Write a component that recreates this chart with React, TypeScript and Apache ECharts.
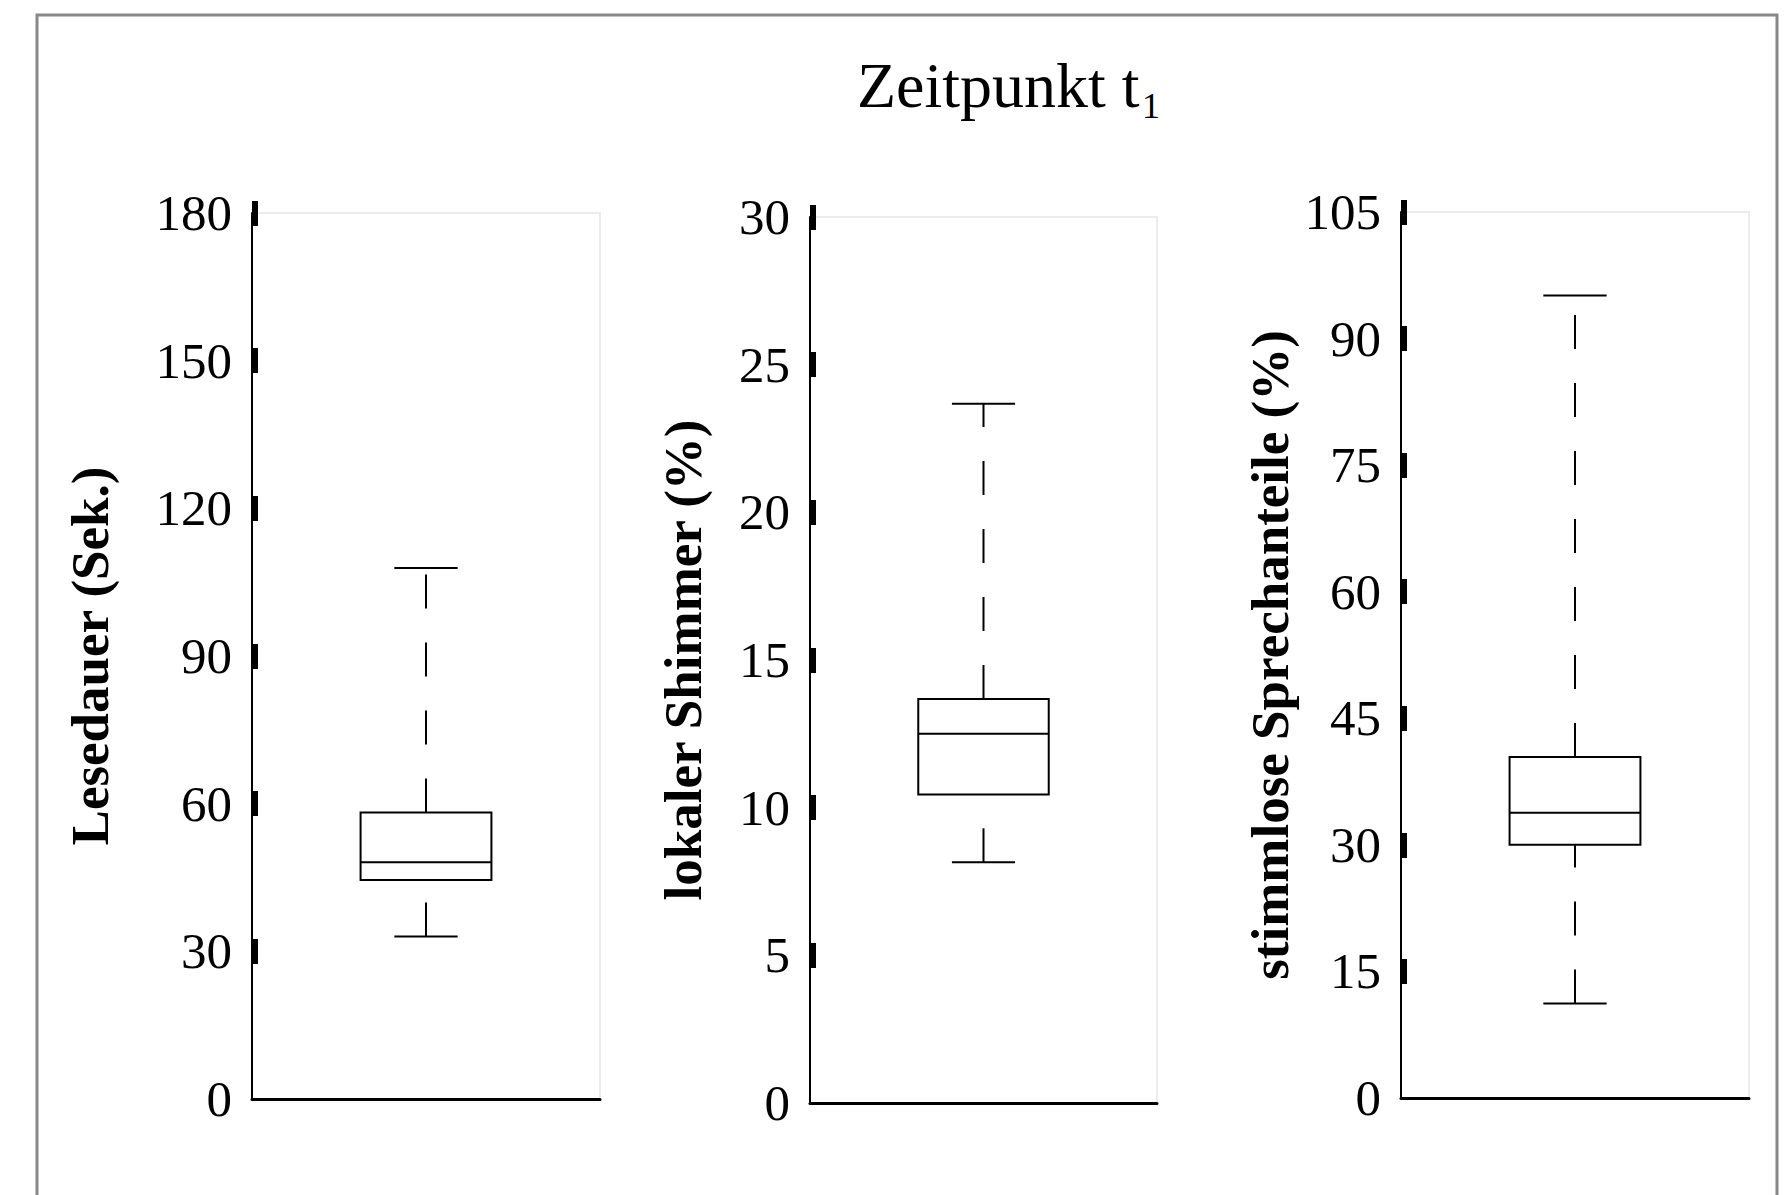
import React, { useEffect, useRef } from "react";
import * as echarts from "echarts";

// five-number summaries: [min, q1, median, q3, max]
const categories = [""];
const lesedauer = [33.0, 44.5, 48.1, 58.2, 107.9];
const shimmer = [8.15, 10.45, 12.5, 13.68, 23.68];
const stimmlos = [11.2, 30.0, 33.8, 40.4, 95.1];

const ticksLesedauer = [0, 30, 60, 90, 120, 150, 180];
const ticksShimmer = [0, 5, 10, 15, 20, 25, 30];
const ticksStimmlos = [0, 15, 30, 45, 60, 75, 90, 105];

const axisNames = ["Lesedauer (Sek.)", "lokaler Shimmer (%)", "stimmlose Sprechanteile (%)"];
const titleMain = "Zeitpunkt t";
const titleSub = "1";

const FONT = "Liberation Serif";

const panels = [
  { data: lesedauer, ticks: ticksLesedauer, name: axisNames[0], grid: { left: 252, top: 213, width: 348, height: 886 }, nameGap: 136 },
  { data: shimmer, ticks: ticksShimmer, name: axisNames[1], grid: { left: 810, top: 217, width: 347, height: 886 }, nameGap: 101 },
  { data: stimmlos, ticks: ticksStimmlos, name: axisNames[2], grid: { left: 1401, top: 212, width: 348, height: 886 }, nameGap: 105 },
];

function renderBox(params: any, api: any) {
  const x = api.value(0);
  const lo = api.coord([x, api.value(1)]);
  const q1 = api.coord([x, api.value(2)]);
  const med = api.coord([x, api.value(3)]);
  const q3 = api.coord([x, api.value(4)]);
  const hi = api.coord([x, api.value(5)]);
  const bw = api.size([1, 0])[0];
  const half = bw * 0.188;
  const cap = bw * 0.091;
  const cx = q1[0];
  const solid = { stroke: "#000", lineWidth: 2, fill: "none" };
  const dashed = { stroke: "#000", lineWidth: 2, lineDash: [34, 34], fill: "none" };
  return {
    type: "group",
    children: [
      { type: "line", shape: { x1: cx, y1: lo[1], x2: cx, y2: q1[1] }, style: dashed },
      { type: "line", shape: { x1: cx, y1: q3[1], x2: cx, y2: hi[1] }, style: dashed },
      { type: "line", shape: { x1: cx - cap, y1: lo[1], x2: cx + cap, y2: lo[1] }, style: solid },
      { type: "line", shape: { x1: cx - cap, y1: hi[1], x2: cx + cap, y2: hi[1] }, style: solid },
      { type: "rect", shape: { x: cx - half, y: q3[1], width: 2 * half, height: q1[1] - q3[1] }, style: { ...solid, fill: "#fff" } },
      { type: "line", shape: { x1: cx - half, y1: med[1], x2: cx + half, y2: med[1] }, style: solid },
    ],
  };
}

export default function App() {
  const ref = useRef<HTMLDivElement>(null);
  useEffect(() => {
    if (!ref.current) return;
    const chart = echarts.init(ref.current, null, { renderer: "svg" });
    const grids = panels.map((p) => ({
      ...p.grid,
      show: true,
      borderColor: "#ececec",
      borderWidth: 2,
      backgroundColor: "transparent",
    }));
    const xAxes = panels.map((_, i) => ({
      type: "category",
      gridIndex: i,
      data: categories,
      boundaryGap: true,
      axisLine: { show: true, lineStyle: { color: "#000", width: 3 } },
      axisTick: { show: false },
      axisLabel: { show: false },
      splitLine: { show: false },
    }));
    const yAxes = panels.map((p, i) => {
      const max = p.ticks[p.ticks.length - 1];
      const step = p.ticks[1] - p.ticks[0];
      return {
        type: "value",
        gridIndex: i,
        min: 0,
        max,
        interval: step,
        name: p.name,
        nameLocation: "middle",
        nameGap: p.nameGap,
        nameTextStyle: { fontFamily: FONT, fontWeight: "bold", fontSize: 53, color: "#000" },
        axisLine: { show: true, lineStyle: { color: "#000", width: 2 } },
        axisTick: {
          show: true,
          inside: true,
          length: 6,
          customValues: p.ticks.slice(1),
          lineStyle: { color: "#000", width: 25 },
        },
        axisLabel: { fontFamily: FONT, fontSize: 51, color: "#000", margin: 20, customValues: p.ticks },
        splitLine: { show: false },
      };
    });
    const series = panels.map((p, i) => ({
      type: "custom",
      xAxisIndex: i,
      yAxisIndex: i,
      renderItem: renderBox,
      encode: { x: 0, y: [1, 2, 3, 4, 5] },
      data: [[0, ...p.data]],
      z: 5,
    }));
    chart.setOption({
      animation: false,
      backgroundColor: "#fff",
      grid: grids,
      xAxis: xAxes,
      yAxis: yAxes,
      series,
      graphic: [
        {
          type: "rect",
          shape: { x: 37, y: 15, width: 1740, height: 1300 },
          style: { fill: "none", stroke: "#888", lineWidth: 3 },
          silent: true,
        },
        {
          type: "text",
          x: 857,
          y: 85,
          style: { text: titleMain, fontFamily: FONT, fontSize: 64, fill: "#000", align: "left", verticalAlign: "middle" },
        },
        {
          type: "text",
          x: 1142,
          y: 106,
          style: { text: titleSub, fontFamily: FONT, fontSize: 36, fill: "#000", align: "left", verticalAlign: "middle" },
        },
      ],
    });
    return () => chart.dispose();
  }, []);
  return <div ref={ref} style={{ position: "absolute", left: 0, top: 0, width: 1788, height: 1195 }} />;
}
